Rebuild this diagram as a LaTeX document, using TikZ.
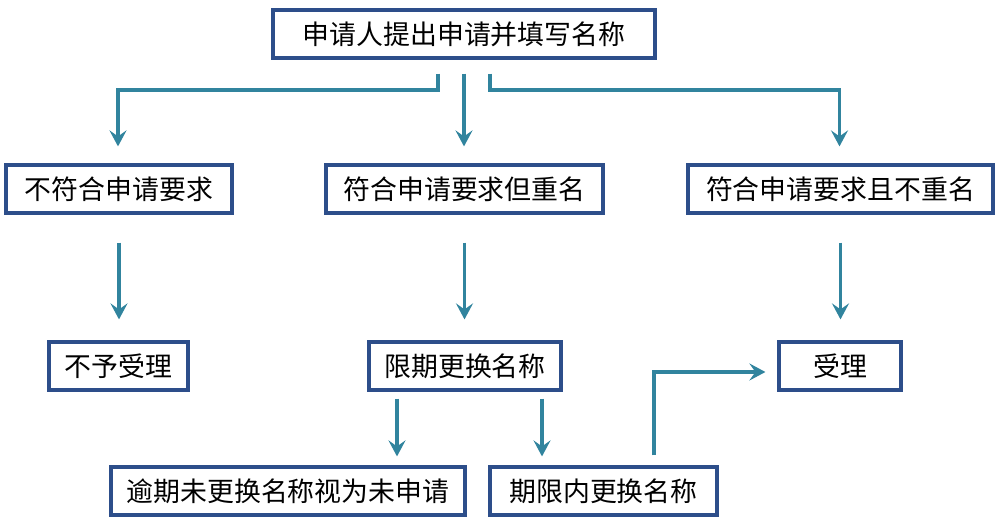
\documentclass[tikz,border=0pt]{standalone}
\usepackage{fontspec}
\setmainfont{Noto Sans CJK SC}
\usetikzlibrary{arrows.meta}
\definecolor{boxblue}{RGB}{45,78,138}
\definecolor{arrteal}{RGB}{49,132,158}
\tikzstyle{step box}=[rectangle,draw=boxblue,line width=1.8pt,fill=white,
minimum height=0.96cm,inner sep=0pt,font=\fontsize{15.3}{18}\selectfont]
\tikzstyle{flow}=[draw=arrteal,line width=2.2pt,
-{Stealth[length=3.2mm,width=3.4mm,inset=1.2mm]}]

\begin{document}
\begin{tikzpicture}[x=1cm,y=1cm]
            \useasboundingbox (0,0) rectangle (20,-10.46);

            % top part

            \node[step box,minimum width=7.64cm] (apply) at (9.28,-0.68) {申请人提出申请并填写名称};

            % check part

            \node[step box,minimum width=4.52cm] (fail) at (2.38,-3.78) {不符合申请要求};
            \node[step box,minimum width=5.54cm] (dup) at (9.29,-3.78) {符合申请要求但重名};
            \node[step box,minimum width=6.10cm] (ok) at (16.81,-3.78) {符合申请要求且不重名};

            \path[flow] ([xshift=-0.52cm,yshift=-0.28cm]apply.south) -- ++(0,-0.32)
                -| ([xshift=-0.02cm,yshift=0.34cm]fail.north);
            \path[flow] ([yshift=-0.28cm]apply.south) -- ([yshift=0.34cm]apply.south |- dup.north);
            \path[flow] ([xshift=0.52cm,yshift=-0.28cm]apply.south) -- ++(0,-0.32)
                -| ([xshift=-0.02cm,yshift=0.34cm]ok.north);

            % result part

            \node[step box,minimum width=2.78cm] (reject) at (2.37,-7.32) {不予受理};
            \node[step box,minimum width=3.84cm] (limit) at (9.30,-7.32) {限期更换名称};
            \node[step box,minimum width=2.44cm] (accept) at (16.80,-7.32) {受理};

            \path[flow] ([yshift=-0.56cm]fail.south) -- ([yshift=0.42cm]fail.south |- reject.north);
            \path[flow] ([yshift=-0.56cm]dup.south) -- ([yshift=0.42cm]dup.south |- limit.north);
            \path[flow] ([yshift=-0.56cm]ok.south) -- ([yshift=0.42cm]ok.south |- accept.north);

            % change name part

            \node[step box,minimum width=7.08cm] (late) at (5.76,-9.82) {逾期未更换名称视为未申请};
            \node[step box,minimum width=4.54cm] (inlimit) at (12.07,-9.82) {期限内更换名称};

            \path[flow] ([xshift=-1.36cm,yshift=-0.14cm]limit.south) -- ([xshift=-1.36cm,yshift=0.18cm]limit.south |- late.north);
            \path[flow] ([xshift=1.54cm,yshift=-0.14cm]limit.south) -- ([xshift=1.54cm,yshift=0.18cm]limit.south |- inlimit.north);
            \path[flow] ([xshift=1.01cm,yshift=0.2cm]inlimit.north) |- ([xshift=-0.24cm,yshift=-0.12cm]accept.west);

        \end{tikzpicture}
\end{document}
